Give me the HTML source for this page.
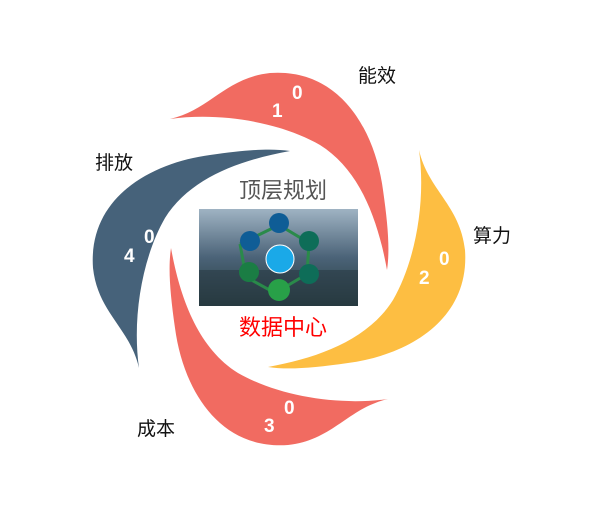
<!DOCTYPE html>
<html><head><meta charset="utf-8"><style>
body{margin:0;background:#fff;width:607px;height:528px;overflow:hidden;font-family:"Liberation Sans","Noto Sans CJK SC",sans-serif}
</style></head><body>
<svg width="607" height="528" viewBox="0 0 607 528" xmlns="http://www.w3.org/2000/svg" style="position:absolute;left:0;top:0">
<defs>
<path id="p" d="M170,119 C210,110 225,78 270,73 C340,68 375,130 383,190 C388,225 390,250 387,270 C378,220 360,170 320,145 C280,122 220,112 170,119 Z"/>
<linearGradient id="g" x1="0" y1="0" x2="0" y2="1"><stop offset="0" stop-color="#9fb3c3"/><stop offset="0.5" stop-color="#4b6378"/><stop offset="1" stop-color="#243a3a"/></linearGradient>
</defs>
<use href="#p" fill="#F16B61"/>
<use href="#p" fill="#FDBE42" transform="rotate(90 279 259)"/>
<use href="#p" fill="#F16B61" transform="rotate(180 279 259)"/>
<use href="#p" fill="#46627A" transform="rotate(270 279 259)"/>
<g font-family="Liberation Sans,sans-serif" font-weight="bold" font-size="19" fill="#fff">
<text x="272" y="117">1</text><text x="292" y="99">0</text>
<text x="419" y="284">2</text><text x="439" y="265">0</text>
<text x="264" y="432">3</text><text x="284" y="414">0</text>
<text x="124" y="262">4</text><text x="144" y="243">0</text>
</g>
<g font-size="19" fill="#111">
<text x="358" y="82">能效</text>
<text x="473" y="242">算力</text>
<text x="137" y="435">成本</text>
<text x="95" y="169">排放</text>
</g>
<text x="283" y="198" text-anchor="middle" font-size="22" fill="#555">顶层规划</text>
<rect x="199" y="209" width="159" height="97" fill="url(#g)"/>
<rect x="199" y="270" width="159" height="36" fill="#2a3b45" opacity="0.6"/>
<g stroke="#2a8a4a" stroke-width="3" fill="none"><polyline points="240,244 279,225 309,243 307,274 275,293 246,277 240,244"/></g>
<circle cx="279" cy="223" r="10" fill="#0f5d96"/>
<circle cx="250" cy="241" r="10" fill="#0f5d96"/>
<circle cx="309" cy="241" r="10" fill="#0e6d58"/>
<circle cx="280" cy="259" r="14" fill="#1aa9e8" stroke="#fff"/>
<circle cx="249" cy="272" r="10" fill="#1a7d44"/>
<circle cx="309" cy="274" r="10" fill="#0e6d58"/>
<circle cx="279" cy="290" r="11" fill="#28a048"/>
<text x="283" y="335" text-anchor="middle" font-size="22" fill="#f00">数据中心</text>
</svg>
</body></html>
